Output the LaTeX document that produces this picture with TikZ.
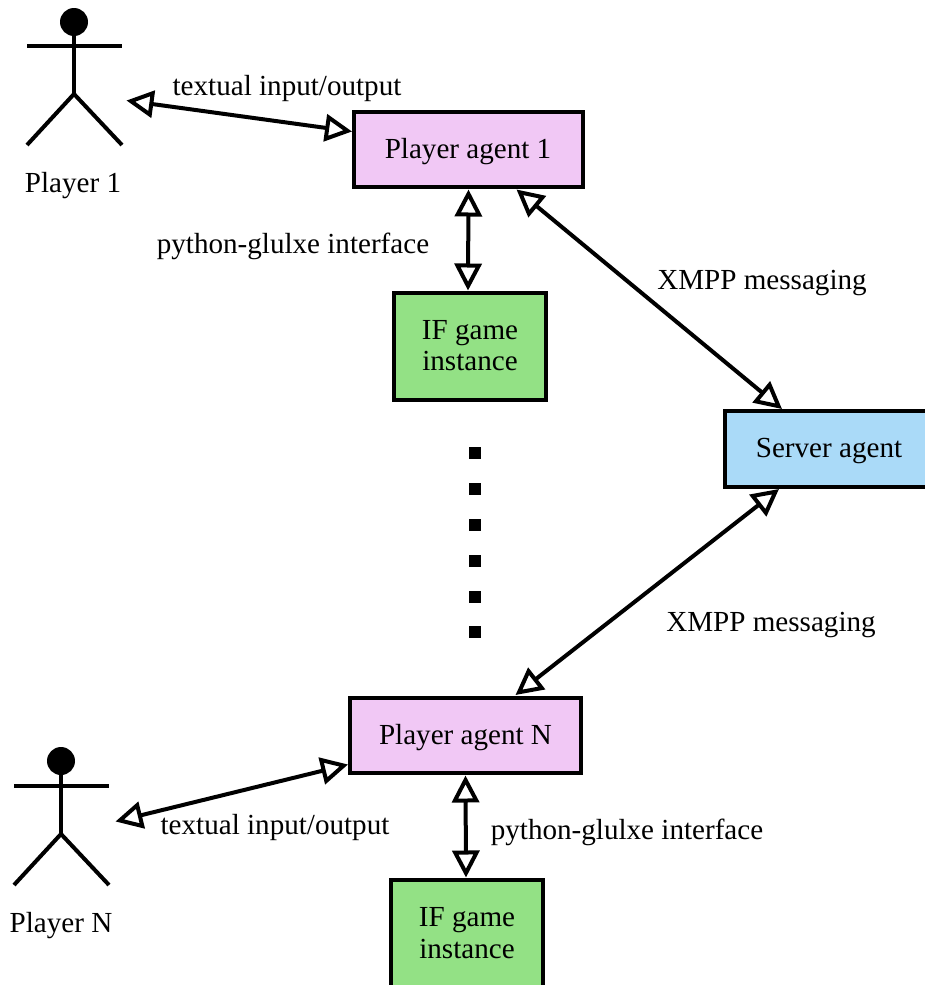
\documentclass[tikz,border=0pt]{standalone}
\usepackage{fontspec}
\setmainfont{Liberation Serif}
\usetikzlibrary{arrows.meta,calc}
\definecolor{agentpink}{RGB}{241,200,245}
\definecolor{gamegreen}{RGB}{147,225,133}
\definecolor{serverblue}{RGB}{170,218,248}
\tikzset{
  lbl/.style={inner sep=0pt,font=\fontsize{29.1}{31.5}\selectfont,align=center},
  boxn/.style={draw=black,line width=4pt,inner sep=0pt,lbl},
  conn/.style={line width=4pt,{Triangle[open,length=27pt,width=27pt,line width=4pt]}-{Triangle[open,length=27pt,width=27pt,line width=4pt]}},
  limb/.style={line width=4pt},
  dotn/.style={fill=black,inner sep=0pt,minimum size=12pt}
}
\begin{document}
\begin{tikzpicture}[x=1pt,y=-1pt]
\useasboundingbox (0,0) rectangle (925,985);
\begin{scope}
\clip (0,0) rectangle (925,985);
% boxes
\node[boxn,fill=agentpink,minimum width=229pt,minimum height=75pt] (pa1) at (468.5,149.5) {};
\node[lbl] (pa1t) at (468,151.5) {Player agent 1};
\node[boxn,fill=gamegreen,minimum width=152pt,minimum height=107pt] (if1) at (470,346.5) {};
\node[lbl] (if1t) at (470,345.5) {IF game\\instance};
\node[boxn,fill=serverblue,minimum width=232pt,minimum height=76pt] (srv) at (841,449) {};
\node[lbl] (srvt) at (829,451) {Server agent};
\node[boxn,fill=agentpink,minimum width=231pt,minimum height=75pt] (pan) at (465.5,735.5) {};
\node[lbl] (pant) at (465.5,737.5) {Player agent N};
\node[boxn,fill=gamegreen,minimum width=152pt,minimum height=132pt] (ifn) at (467,946) {};
\node[lbl] (ifnt) at (467,933) {IF game\\instance};
\end{scope}
% actor 1
\node[circle,fill=black,minimum size=28pt,inner sep=0pt] (h1) at (74,22) {};
\coordinate (hip1) at (74,94);
\coordinate (al1) at (27,46);
\coordinate (ar1) at (122,46);
\coordinate (ll1) at (27,145);
\coordinate (lr1) at (122,145);
\draw[limb] (h1) -- (hip1);
\draw[limb] (al1) -- (ar1);
\draw[limb] (ll1) -- (hip1) -- (lr1);
\node[lbl] (p1) at (73,186) {Player 1};
% actor N
\node[circle,fill=black,minimum size=28pt,inner sep=0pt] (hn) at (61,761) {};
\coordinate (hipn) at (61,834);
\coordinate (aln) at (14,786);
\coordinate (arn) at (109,786);
\coordinate (lln) at (14,885);
\coordinate (lrn) at (109,885);
\draw[limb] (hn) -- (hipn);
\draw[limb] (aln) -- (arn);
\draw[limb] (lln) -- (hipn) -- (lrn);
\node[lbl] (pn) at (61,926) {Player N};
% dots
\foreach \n/\y in {1/453,2/489,3/525,4/561,5/597,6/632}
  \node[dotn] (d\n) at (474.5,\y) {};
% connector ends
\coordinate (e1) at (126.5,100.5);
\coordinate (en) at (115.5,821.5);
% connectors
\draw[conn] (e1) -- ($(pa1.west)+(0,-18)$);
\draw[conn] ($(pa1.south)+(0,0.5)$) -- ($(if1.north)+(-2,-0.5)$);
\draw[conn] ($(pa1.south)+(48,0.5)$) -- ($(srv.north)+(-59,0)$);
\draw[conn] ($(srv.south)+(-62,0)$) -- ($(pan.north)+(50,-1)$);
\draw[conn] ($(pan.west)+(0,29)$) -- (en);
\draw[conn] ($(pan.south)+(0,0.5)$) -- ($(ifn.north)+(-1,-0.5)$);
% labels
\node[lbl] (l1) at (287,89) {textual input/output};
\node[lbl] (l2) at (293,246) {python-glulxe interface};
\node[lbl] (l3) at (762,283) {XMPP messaging};
\node[lbl] (l4) at (771,624.5) {XMPP messaging};
\node[lbl] (l5) at (275,827) {textual input/output};
\node[lbl] (l6) at (627,832) {python-glulxe interface};
\end{tikzpicture}
\end{document}
